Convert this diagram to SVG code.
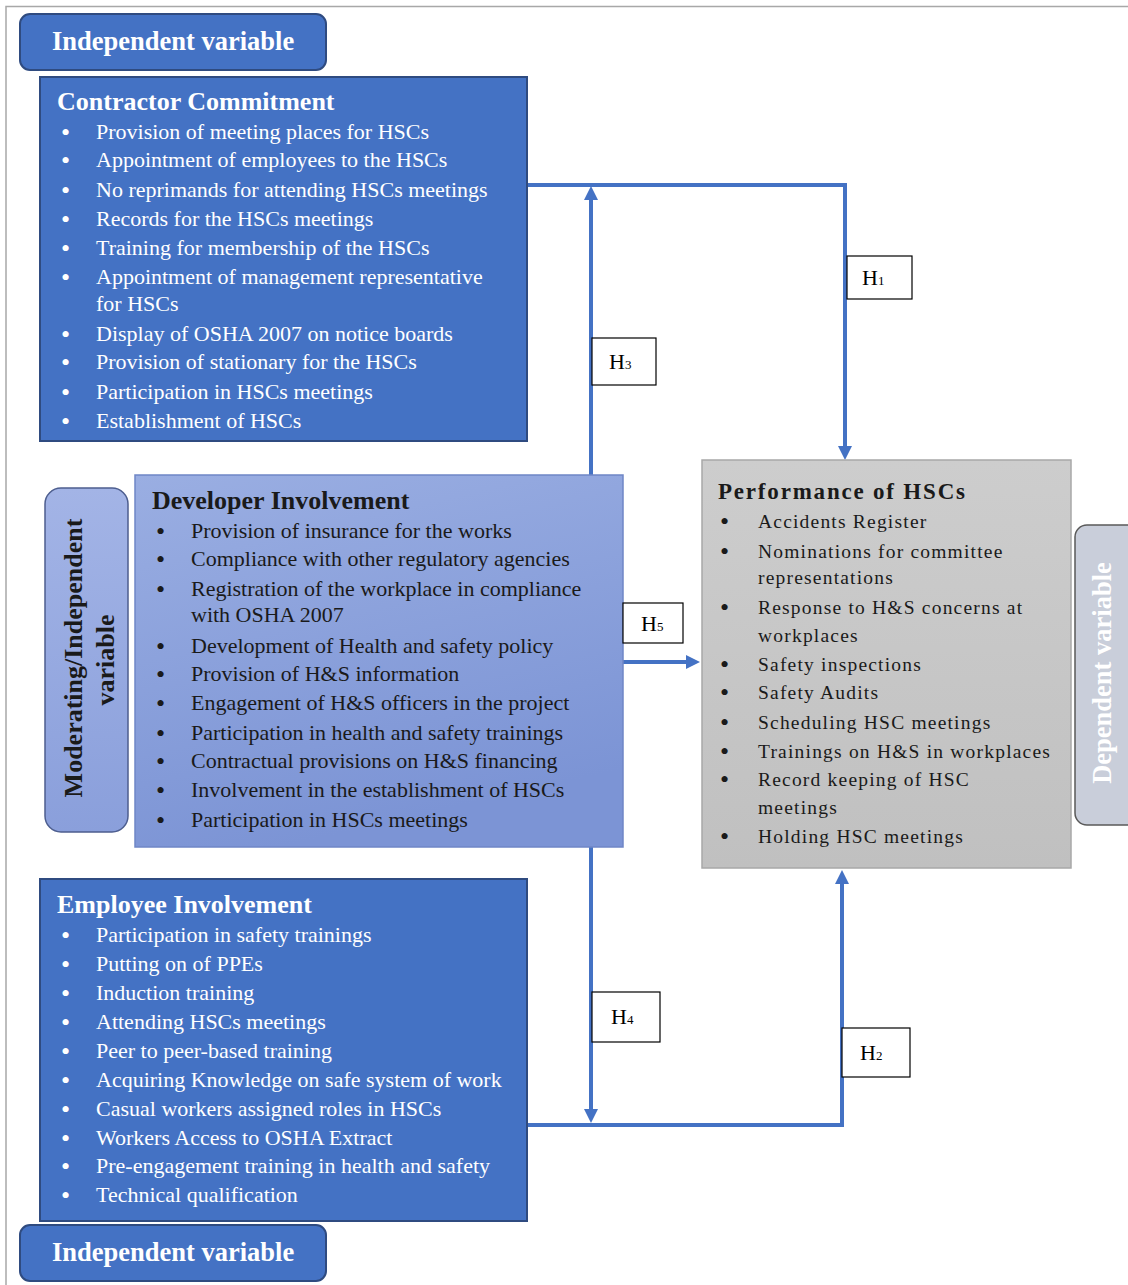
<svg xmlns="http://www.w3.org/2000/svg" width="1128" height="1285" viewBox="0 0 1128 1285">
<defs>
<linearGradient id="gDev" x1="0" y1="0" x2="0.3" y2="1">
<stop offset="0" stop-color="#9AAEE2"/><stop offset="1" stop-color="#7C94D5"/>
</linearGradient>
<linearGradient id="gMod" x1="0" y1="0" x2="0" y2="1">
<stop offset="0" stop-color="#A3B4E6"/><stop offset="1" stop-color="#8A9FDB"/>
</linearGradient>
<linearGradient id="gPerf" x1="0" y1="0" x2="0" y2="1">
<stop offset="0" stop-color="#CDCDCD"/><stop offset="1" stop-color="#C0C0C0"/>
</linearGradient>
<marker id="arr" viewBox="0 0 10 10" refX="0" refY="5" markerWidth="14" markerHeight="14" markerUnits="userSpaceOnUse" orient="auto">
<path d="M0,0 L10,5 L0,10 z" fill="#4472C4"/>
</marker>
<style>
.pill{fill:#4472C4;stroke:#2F4B80;stroke-width:2}
.blue{fill:#4472C4;stroke:#2F4B80;stroke-width:2}
.pillt{font-family:"Liberation Serif",serif;font-weight:bold;font-size:26.5px;fill:#fff}
.tw{font-family:"Liberation Serif",serif;font-weight:bold;font-size:26px;fill:#fff}
.iw{font-family:"Liberation Serif",serif;font-size:22px;fill:#fff}
.td{font-family:"Liberation Serif",serif;font-weight:bold;font-size:26px;fill:#1a1a1a}
.id{font-family:"Liberation Serif",serif;font-size:22px;fill:#1a1a1a}
.tp{font-family:"Liberation Serif",serif;font-weight:bold;font-size:23px;letter-spacing:1.8px;fill:#1a1a1a}
.ip{font-family:"Liberation Serif",serif;font-size:19.5px;letter-spacing:1.2px;fill:#1a1a1a}
.b{font-size:26px;letter-spacing:0}
.conn{fill:none;stroke:#4472C4;stroke-width:4}
.lbl{fill:#fff;stroke:#000;stroke-width:1.2}
.lt{font-family:"Liberation Serif",serif;font-size:22px;fill:#000}
.sub{font-size:13px}
</style>
</defs>
<rect width="1128" height="1285" fill="#fff"/>
<g id="frame">
<path d="M6,1285 V6.5 H1128" fill="none" stroke="#a8a8a8" stroke-width="1.5"/>
</g>

<g id="connectors">
<path class="conn" d="M527,185 H845 V446" marker-end="url(#arr)"/>
<path class="conn" d="M591,475 V200" marker-end="url(#arr)"/>
<path class="conn" d="M623,662 H686" marker-end="url(#arr)"/>
<path class="conn" d="M591,847 V1109" marker-end="url(#arr)"/>
<path class="conn" d="M527,1125 H842 V884" marker-end="url(#arr)"/>
</g>

<g id="indep-top">
<rect class="pill" x="20" y="14" width="306" height="56" rx="10"/>
<text class="pillt" x="52" y="50">Independent variable</text>
</g>

<g id="contractor">
<rect class="blue" x="40" y="77" width="487" height="364"/>
<text class="tw" x="57" y="110">Contractor Commitment</text>
<g class="iw">
<text class="b" x="61" y="141">•</text><text x="96" y="139">Provision of meeting places for HSCs</text>
<text class="b" x="61" y="169">•</text><text x="96" y="167">Appointment of employees to the HSCs</text>
<text class="b" x="61" y="199">•</text><text x="96" y="197">No reprimands for attending HSCs meetings</text>
<text class="b" x="61" y="228">•</text><text x="96" y="226">Records for the HSCs meetings</text>
<text class="b" x="61" y="257">•</text><text x="96" y="255">Training for membership of the HSCs</text>
<text class="b" x="61" y="286">•</text><text x="96" y="284">Appointment of management representative</text>
<text x="96" y="311">for HSCs</text>
<text class="b" x="61" y="343">•</text><text x="96" y="341">Display of OSHA 2007 on notice boards</text>
<text class="b" x="61" y="371">•</text><text x="96" y="369">Provision of stationary for the HSCs</text>
<text class="b" x="61" y="401">•</text><text x="96" y="399">Participation in HSCs meetings</text>
<text class="b" x="61" y="430">•</text><text x="96" y="428">Establishment of HSCs</text>
</g>
</g>

<g id="moderating">
<rect x="45" y="488" width="83" height="344" rx="16" fill="url(#gMod)" stroke="#4D5E8F" stroke-width="1.5"/>
<text class="td" font-size="24" text-anchor="middle" transform="translate(82,658) rotate(-90)">Moderating/Independent</text>
<text class="td" font-size="24" text-anchor="middle" transform="translate(114,660) rotate(-90)">variable</text>
</g>

<g id="developer">
<rect x="135" y="475" width="488" height="372" fill="url(#gDev)" stroke="#6F86C6" stroke-width="1.5"/>
<text class="td" x="152" y="509">Developer Involvement</text>
<g class="id">
<text class="b" x="156" y="540">•</text><text x="191" y="538">Provision of insurance for the works</text>
<text class="b" x="156" y="568">•</text><text x="191" y="566">Compliance with other regulatory agencies</text>
<text class="b" x="156" y="598">•</text><text x="191" y="596">Registration of the workplace in compliance</text>
<text x="191" y="622">with OSHA 2007</text>
<text class="b" x="156" y="655">•</text><text x="191" y="653">Development of Health and safety policy</text>
<text class="b" x="156" y="683">•</text><text x="191" y="681">Provision of H&amp;S information</text>
<text class="b" x="156" y="712">•</text><text x="191" y="710">Engagement of H&amp;S officers in the project</text>
<text class="b" x="156" y="742">•</text><text x="191" y="740">Participation in health and safety trainings</text>
<text class="b" x="156" y="770">•</text><text x="191" y="768">Contractual provisions on H&amp;S financing</text>
<text class="b" x="156" y="799">•</text><text x="191" y="797">Involvement in the establishment of HSCs</text>
<text class="b" x="156" y="829">•</text><text x="191" y="827">Participation in HSCs meetings</text>
</g>
</g>

<g id="performance">
<rect x="702" y="460" width="369" height="408" fill="url(#gPerf)" stroke="#a8a8a8" stroke-width="1.5"/>
<text class="tp" x="718" y="499">Performance of HSCs</text>
<g class="ip">
<text class="b" x="720" y="530">•</text><text x="758" y="528">Accidents Register</text>
<text class="b" x="720" y="560">•</text><text x="758" y="558">Nominations for committee</text>
<text x="758" y="584">representations</text>
<text class="b" x="720" y="616">•</text><text x="758" y="614">Response to H&amp;S concerns at</text>
<text x="758" y="642">workplaces</text>
<text class="b" x="720" y="673">•</text><text x="758" y="671">Safety inspections</text>
<text class="b" x="720" y="701">•</text><text x="758" y="699">Safety Audits</text>
<text class="b" x="720" y="731">•</text><text x="758" y="729">Scheduling HSC meetings</text>
<text class="b" x="720" y="760">•</text><text x="758" y="758">Trainings on H&amp;S in workplaces</text>
<text class="b" x="720" y="788">•</text><text x="758" y="786">Record keeping of HSC</text>
<text x="758" y="814">meetings</text>
<text class="b" x="720" y="845">•</text><text x="758" y="843">Holding HSC meetings</text>
</g>
</g>

<g id="dependent">
<rect x="1075" y="525" width="70" height="300" rx="12" fill="#C9CEDA" stroke="#5a5a5a" stroke-width="1.5"/>
<text class="pillt" font-size="24" text-anchor="middle" transform="translate(1111,673) rotate(-90)">Dependent variable</text>
</g>

<g id="employee">
<rect class="blue" x="40" y="879" width="487" height="342"/>
<text class="tw" x="57" y="913">Employee Involvement</text>
<g class="iw">
<text class="b" x="61" y="944">•</text><text x="96" y="942">Participation in safety trainings</text>
<text class="b" x="61" y="973">•</text><text x="96" y="971">Putting on of PPEs</text>
<text class="b" x="61" y="1002">•</text><text x="96" y="1000">Induction training</text>
<text class="b" x="61" y="1031">•</text><text x="96" y="1029">Attending HSCs meetings</text>
<text class="b" x="61" y="1060">•</text><text x="96" y="1058">Peer to peer-based training</text>
<text class="b" x="61" y="1089">•</text><text x="96" y="1087">Acquiring Knowledge on safe system of work</text>
<text class="b" x="61" y="1118">•</text><text x="96" y="1116">Casual workers assigned roles in HSCs</text>
<text class="b" x="61" y="1147">•</text><text x="96" y="1145">Workers Access to OSHA Extract</text>
<text class="b" x="61" y="1175">•</text><text x="96" y="1173">Pre-engagement training in health and safety</text>
<text class="b" x="61" y="1204">•</text><text x="96" y="1202">Technical qualification</text>
</g>
</g>

<g id="indep-bottom">
<rect class="pill" x="20" y="1225" width="306" height="56" rx="10"/>
<text class="pillt" x="52" y="1261">Independent variable</text>
</g>

<g id="labels">
<g id="lbl-h1"><rect class="lbl" x="847" y="256" width="65" height="43"/><text class="lt" x="862" y="285">H<tspan class="sub">1</tspan></text></g>
<g id="lbl-h3"><rect class="lbl" x="592" y="338" width="64" height="47"/><text class="lt" x="609" y="369">H<tspan class="sub">3</tspan></text></g>
<g id="lbl-h5"><rect class="lbl" x="623" y="603" width="60" height="40"/><text class="lt" x="641" y="631">H<tspan class="sub">5</tspan></text></g>
<g id="lbl-h4"><rect class="lbl" x="592" y="992" width="68" height="50"/><text class="lt" x="611" y="1024">H<tspan class="sub">4</tspan></text></g>
<g id="lbl-h2"><rect class="lbl" x="842" y="1028" width="68" height="49"/><text class="lt" x="860" y="1060">H<tspan class="sub">2</tspan></text></g>
</g>
</svg>
